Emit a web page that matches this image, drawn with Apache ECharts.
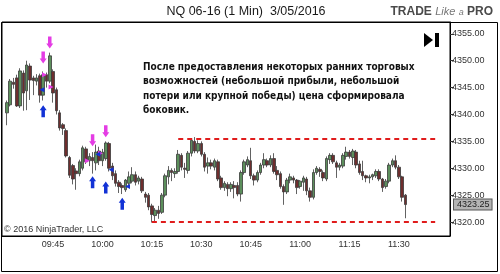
<!DOCTYPE html>
<html>
<head>
<meta charset="utf-8">
<script src="https://cdn.jsdelivr.net/npm/echarts@6/dist/echarts.min.js"></script>
<style>
  html, body { margin: 0; padding: 0; background: #fff; }
  #chart { width: 500px; height: 274px; }
</style>
</head>
<body>
<div id="chart"></div>
<script>
// axis runs 09:30 .. 11:45, first bar at 09:31, one bar per minute
const axisStart = '09:30';
const axisEnd = '11:45';
const firstBar = '09:31';

const opens = [
  4340.3, 4341.8, 4346.0, 4346.8, 4341.6, 4347.7, 4344.4, 4349.0, 4346.8, 4346.2,
  4347.2, 4343.6, 4347.4, 4346.2, 4348.0, 4344.6, 4340.3, 4338.1, 4337.0, 4332.0,
  4330.5, 4329.5, 4329.0, 4330.0, 4333.6, 4331.4, 4332.0, 4331.0, 4333.2, 4331.4,
  4331.8, 4334.6, 4330.4, 4329.0, 4327.4, 4326.8, 4326.0, 4327.2, 4327.6, 4328.8,
  4327.6, 4328.0, 4325.2, 4325.0, 4323.0, 4321.2, 4322.2, 4321.8, 4325.0, 4328.4,
  4329.6, 4329.0, 4329.4, 4332.4, 4330.0, 4329.6, 4332.8, 4335.0, 4333.2, 4334.6,
  4332.6, 4330.4, 4331.0, 4330.2, 4331.2, 4328.2, 4326.4, 4327.0, 4326.2, 4326.8,
  4326.8, 4325.2, 4329.2, 4330.6, 4331.4, 4328.6, 4327.8, 4329.2, 4330.6, 4331.4,
  4330.6, 4331.8, 4329.6, 4329.0, 4326.6, 4325.6, 4327.8, 4328.2, 4327.8, 4326.6,
  4327.4, 4328.0, 4325.8, 4324.6, 4329.2, 4329.8, 4329.2, 4328.0, 4331.6, 4332.4,
  4331.0, 4330.2, 4330.4, 4332.2, 4333.0, 4332.0, 4333.0, 4330.8, 4329.4, 4328.6,
  4328.2, 4328.4, 4328.6, 4329.4, 4328.0, 4326.6, 4327.6, 4330.6, 4331.4, 4330.2,
  4328.4, 4325.0
];
const closes = [
  4342.2, 4346.2, 4345.6, 4341.6, 4348.1, 4344.0, 4349.2, 4346.4, 4346.3, 4346.8,
  4343.6, 4347.4, 4346.2, 4350.9, 4344.0, 4340.7, 4337.5, 4337.4, 4332.3, 4328.7,
  4328.0, 4329.0, 4331.2, 4333.8, 4331.2, 4332.2, 4331.4, 4333.0, 4331.4, 4333.0,
  4334.7, 4330.0, 4328.6, 4327.2, 4326.6, 4326.4, 4327.8, 4328.4, 4328.8, 4327.4,
  4328.2, 4325.8, 4324.6, 4322.8, 4321.4, 4322.2, 4321.6, 4325.0, 4328.6, 4329.6,
  4329.2, 4329.4, 4332.6, 4330.2, 4329.8, 4332.8, 4335.2, 4333.2, 4334.6, 4332.6,
  4330.2, 4331.0, 4330.4, 4331.4, 4328.0, 4326.4, 4327.2, 4326.2, 4327.0, 4326.4,
  4325.2, 4329.2, 4331.2, 4331.6, 4328.6, 4327.8, 4329.2, 4330.6, 4331.6, 4330.6,
  4331.8, 4329.4, 4328.8, 4326.6, 4325.6, 4327.8, 4328.4, 4327.8, 4326.4, 4327.6,
  4328.2, 4325.8, 4324.6, 4329.2, 4330.0, 4329.4, 4328.2, 4331.8, 4332.4, 4331.2,
  4330.2, 4330.6, 4332.4, 4333.0, 4332.2, 4333.2, 4330.6, 4329.2, 4328.6, 4328.2,
  4328.4, 4328.8, 4329.4, 4328.0, 4326.4, 4327.6, 4330.6, 4331.4, 4330.2, 4328.4,
  4324.6, 4323.25
];
const lows = [
  4338.0, 4341.5, 4344.8, 4341.4, 4341.2, 4340.7, 4340.8, 4342.7, 4343.6, 4345.4,
  4342.2, 4342.6, 4345.0, 4345.8, 4342.2, 4340.0, 4337.0, 4336.2, 4332.0, 4328.2,
  4327.0, 4326.0, 4328.5, 4329.6, 4330.8, 4330.4, 4329.0, 4329.6, 4330.6, 4330.4,
  4331.4, 4329.4, 4327.8, 4326.6, 4325.4, 4325.2, 4325.6, 4326.8, 4327.2, 4326.8,
  4327.0, 4325.4, 4323.6, 4322.2, 4319.9, 4320.0, 4320.6, 4321.5, 4324.6, 4327.0,
  4327.6, 4328.2, 4329.0, 4329.6, 4328.2, 4329.0, 4332.2, 4332.8, 4332.8, 4332.2,
  4329.4, 4329.0, 4329.8, 4329.6, 4327.6, 4326.0, 4325.8, 4324.8, 4325.6, 4324.4,
  4324.8, 4323.8, 4328.8, 4330.2, 4328.0, 4326.8, 4327.4, 4328.8, 4330.0, 4330.2,
  4330.2, 4329.0, 4327.8, 4326.2, 4323.2, 4325.2, 4327.2, 4327.2, 4325.2, 4326.2,
  4325.8, 4325.0, 4323.8, 4324.2, 4328.8, 4328.4, 4327.6, 4327.6, 4330.8, 4330.8,
  4328.2, 4329.6, 4330.0, 4331.6, 4331.8, 4330.6, 4330.0, 4328.8, 4327.8, 4327.4,
  4327.2, 4327.8, 4328.2, 4327.6, 4325.6, 4326.2, 4327.2, 4330.2, 4329.8, 4328.0,
  4323.8, 4320.7
];
const highs = [
  4342.6, 4346.6, 4346.8, 4347.4, 4348.6, 4348.2, 4350.0, 4349.5, 4347.2, 4347.5,
  4347.6, 4348.0, 4347.8, 4351.5, 4348.4, 4345.0, 4340.8, 4338.4, 4337.4, 4332.3,
  4330.8, 4330.0, 4331.6, 4334.2, 4334.0, 4332.8, 4333.0, 4334.4, 4334.0, 4333.6,
  4335.0, 4334.9, 4331.0, 4329.6, 4327.8, 4327.2, 4328.0, 4329.4, 4330.2, 4329.4,
  4328.6, 4328.4, 4325.6, 4325.4, 4323.4, 4322.6, 4323.0, 4325.4, 4329.0, 4330.4,
  4330.0, 4330.0, 4333.4, 4332.8, 4331.0, 4333.2, 4335.5, 4335.8, 4335.2, 4335.0,
  4333.0, 4332.0, 4331.6, 4331.8, 4331.6, 4328.6, 4327.6, 4327.4, 4327.4, 4327.6,
  4327.4, 4329.6, 4331.6, 4332.2, 4333.8, 4329.0, 4329.6, 4331.0, 4332.8, 4331.8,
  4332.4, 4332.8, 4330.4, 4329.4, 4327.0, 4328.2, 4329.0, 4328.6, 4328.0, 4327.8,
  4328.6, 4328.4, 4326.4, 4329.8, 4330.4, 4330.2, 4329.6, 4332.2, 4332.8, 4332.8,
  4331.4, 4331.0, 4332.8, 4334.0, 4333.4, 4333.6, 4333.4, 4331.4, 4331.4, 4328.8,
  4328.8, 4329.0, 4329.8, 4329.8, 4328.2, 4328.0, 4331.0, 4331.8, 4332.4, 4330.6,
  4328.6, 4325.2
];

const yTicks = [4320, 4325, 4330, 4335, 4340, 4345, 4350, 4355];
const xTicks = ['09:45', '10:00', '10:15', '10:30', '10:45', '11:00', '11:15', '11:30'];
const lastPrice = 4323.25;

// trading range drawn afterwards
const rangeTop = 4335.5;
const rangeBottom = 4320;
const rangeTopStart = '10:23';
const rangeBottomStart = '10:15';
const rangeEnd = '11:41';

// trade marks
const sellArrows = [['09:42', 4350.6], ['09:44', 4353.4], ['09:57', 4335.2], ['10:01', 4336.9]];
const buyArrows = [['09:42', 4340.6], ['09:57', 4327.4], ['10:01', 4326.4], ['10:06', 4323.4]];
const sellFills = [['09:43', 4347.4], ['09:45', 4345.1], ['09:56', 4331.4], ['10:00', 4332.8]];
const buyFills = [['09:41', 4344.6], ['09:58', 4332.6], ['10:02', 4329.7], ['10:07', 4326.6]];

const note = 'После предоставления некоторых ранних торговых\n' +
  'возможностей (небольшой прибыли, небольшой\n' +
  'потери или крупной победы) цена сформировала\n' +
  'боковик.';

function toMin(s) { const p = s.split(':'); return +p[0] * 60 + +p[1]; }
function toHM(m) {
  return String(Math.floor(m / 60)).padStart(2, '0') + ':' + String(m % 60).padStart(2, '0');
}

let categories = [];
for (let m = toMin(axisStart); m <= toMin(axisEnd); m++) categories.push(toHM(m));

let candles = opens.map((o, i) => [toHM(toMin(firstBar) + i), o, closes[i], lows[i], highs[i]]);

const font = 'Liberation Sans, Arial, sans-serif';
const downArrow = 'path://M2,0 L6,0 L6,7 L8,7 L4,12 L0,7 L2,7 Z';
const isTick = (idx, val) => xTicks.indexOf(val) >= 0;

let chart = echarts.init(document.getElementById('chart'));
chart.setOption({
  animation: false,
  backgroundColor: '#fff',
  grid: {
    left: 2, top: 22, width: 448, height: 214,
    show: true, borderColor: '#000', borderWidth: 1
  },
  xAxis: {
    type: 'category',
    data: categories,
    boundaryGap: true,
    axisLine: { lineStyle: { color: '#000' } },
    axisTick: { alignWithLabel: true, interval: isTick, length: 4, lineStyle: { color: '#333' } },
    axisLabel: { interval: isTick, color: '#333', fontSize: 9, fontFamily: font, margin: 4 },
    splitLine: { show: false }
  },
  yAxis: {
    type: 'value',
    position: 'right',
    min: 4317.4,
    max: 4357.2,
    scale: true,
    splitLine: { show: false },
    axisLine: { show: true, lineStyle: { color: '#000' } },
    axisTick: { show: true, length: 4, customValues: yTicks, lineStyle: { color: '#333' } },
    axisLabel: {
      customValues: yTicks, color: '#333', fontSize: 9, fontFamily: font, margin: 2,
      formatter: v => v.toFixed(2)
    }
  },
  graphic: [
    {
      type: 'rect', silent: true, z: 0,
      shape: { x: 1.5, y: 22.5, width: 496, height: 249 },
      style: { fill: 'none', stroke: '#000', lineWidth: 1 }
    },
    {
      type: 'text', x: 246, y: 5,
      style: {
        text: 'NQ 06-16 (1 Min)  3/05/2016', fill: '#1a1a1a',
        font: '12.5px ' + font, textAlign: 'center'
      }
    },
    {
      type: 'text', x: 493, y: 6,
      style: {
        text: '{a|TRADE} {b|Like} {c|a} {a|PRO}',
        textAlign: 'right',
        rich: {
          a: { fontSize: 12, fontWeight: 'bold', fill: '#4a4a4a', fontFamily: font },
          b: { fontSize: 11, fontStyle: 'italic', fill: '#777', fontFamily: font },
          c: { fontSize: 9, fontStyle: 'italic', fill: '#777', fontFamily: font }
        }
      }
    },
    {
      type: 'text', x: 143, y: 60,
      style: {
        text: note, fill: '#111', lineHeight: 14.5,
        font: 'bold 10px "DejaVu Sans Condensed", "Liberation Sans", sans-serif'
      }
    },
    {
      type: 'text', x: 4, y: 225,
      style: { text: '© 2016 NinjaTrader, LLC', fill: '#333', font: '9px ' + font }
    },
    {
      type: 'polygon', silent: true,
      shape: { points: [[424, 33], [424, 47], [433, 40]] },
      style: { fill: '#000' }
    },
    {
      type: 'rect', silent: true,
      shape: { x: 435, y: 33, width: 4, height: 14 },
      style: { fill: '#000' }
    }
  ],
  series: [
    {
      type: 'candlestick',
      data: candles,
      encode: { x: 0, y: [1, 2, 3, 4] },
      barWidth: 3,
      itemStyle: {
        color: '#5c8f5c',
        color0: '#6e2e2e',
        borderColor: '#3a3a3a',
        borderColor0: '#3a3a3a',
        borderWidth: 0.8
      },
      markLine: {
        silent: true,
        symbol: 'none',
        animation: false,
        label: { show: false },
        lineStyle: { color: '#e01c1c', width: 2, type: [5, 4] },
        data: [
          [{ coord: [rangeTopStart, rangeTop] }, { coord: [rangeEnd, rangeTop] }],
          [{ coord: [rangeBottomStart, rangeBottom] }, { coord: [rangeEnd, rangeBottom] }]
        ]
      }
    },
    {
      // last price tag on the right axis
      type: 'line',
      data: [],
      markLine: {
        silent: true,
        symbol: 'none',
        animation: false,
        lineStyle: { color: 'rgba(0,0,0,0)', width: 0 },
        data: [{ yAxis: lastPrice }],
        label: {
          show: true, position: 'end', distance: 4,
          formatter: () => lastPrice.toFixed(2),
          color: '#222', fontSize: 9, fontFamily: font,
          backgroundColor: '#b4b4b4', borderColor: '#555', borderWidth: 1,
          padding: [1, 2, 0, 3]
        }
      }
    },
    {
      type: 'scatter', data: sellArrows, symbol: downArrow, symbolSize: [7, 12],
      itemStyle: { color: '#e43ce4', opacity: 1 }, z: 5
    },
    {
      type: 'scatter', data: buyArrows, symbol: downArrow, symbolSize: [7, 12], symbolRotate: 180,
      itemStyle: { color: '#1232d6', opacity: 1 }, z: 5
    },
    {
      type: 'scatter', data: sellFills, symbol: 'triangle', symbolSize: 5, symbolRotate: -90,
      symbolOffset: [-2, 0], itemStyle: { color: '#e43ce4', opacity: 1 }, z: 5
    },
    {
      type: 'scatter', data: buyFills, symbol: 'triangle', symbolSize: 5, symbolRotate: 90,
      symbolOffset: [2, 0], itemStyle: { color: '#1232d6', opacity: 1 }, z: 5
    }
  ]
});
</script>
</body>
</html>
